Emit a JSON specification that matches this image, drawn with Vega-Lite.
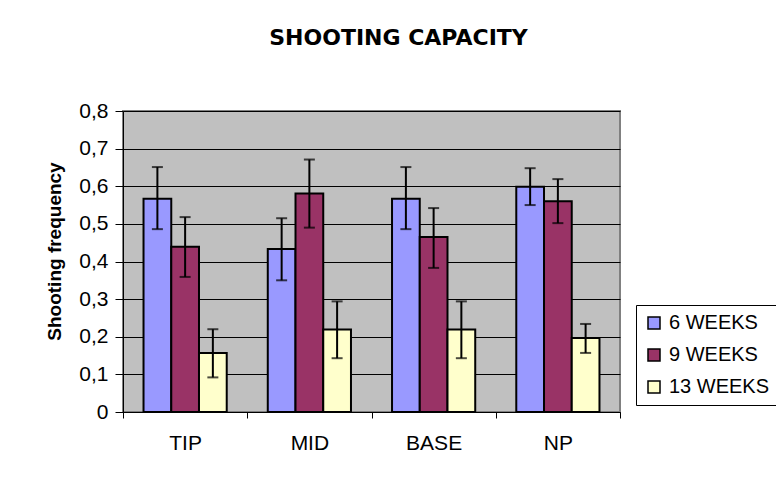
{
  "$schema": "https://vega.github.io/schema/vega-lite/v6.json",
  "width": 497,
  "height": 301,
  "autosize": {"type": "none"},
  "padding": {"left": 123, "top": 111, "right": 156, "bottom": 65},
  "background": "white",
  "title": {
    "text": "SHOOTING CAPACITY",
    "font": "DejaVu Sans",
    "fontSize": 22,
    "fontWeight": "bold",
    "color": "black",
    "anchor": "middle",
    "dx": 27,
    "offset": 50
  },
  "data": {
    "values": [
      {"part": "TIP", "age": "6 WEEKS", "value": 0.567, "lo": 0.486, "hi": 0.651},
      {"part": "TIP", "age": "9 WEEKS", "value": 0.439, "lo": 0.359, "hi": 0.518},
      {"part": "TIP", "age": "13 WEEKS", "value": 0.157, "lo": 0.092, "hi": 0.220},
      {"part": "MID", "age": "6 WEEKS", "value": 0.433, "lo": 0.350, "hi": 0.515},
      {"part": "MID", "age": "9 WEEKS", "value": 0.581, "lo": 0.490, "hi": 0.671},
      {"part": "MID", "age": "13 WEEKS", "value": 0.219, "lo": 0.143, "hi": 0.294},
      {"part": "BASE", "age": "6 WEEKS", "value": 0.567, "lo": 0.486, "hi": 0.651},
      {"part": "BASE", "age": "9 WEEKS", "value": 0.465, "lo": 0.383, "hi": 0.542},
      {"part": "BASE", "age": "13 WEEKS", "value": 0.219, "lo": 0.143, "hi": 0.294},
      {"part": "NP", "age": "6 WEEKS", "value": 0.599, "lo": 0.550, "hi": 0.648},
      {"part": "NP", "age": "9 WEEKS", "value": 0.560, "lo": 0.502, "hi": 0.619},
      {"part": "NP", "age": "13 WEEKS", "value": 0.197, "lo": 0.157, "hi": 0.234}
    ]
  },
  "encoding": {
    "x": {
      "field": "part",
      "type": "nominal",
      "sort": ["TIP", "MID", "BASE", "NP"],
      "scale": {"paddingInner": 0, "paddingOuter": 0},
      "axis": {
        "title": null,
        "labelAngle": 0,
        "tickBand": "extent",
        "domainColor": "black",
        "domainWidth": 1,
        "tickColor": "black",
        "tickSize": 6,
        "labelFont": "Liberation Sans",
        "labelFontSize": 21,
        "labelColor": "black",
        "labelPadding": 14,
        "grid": false
      }
    },
    "xOffset": {
      "field": "age",
      "type": "nominal",
      "sort": ["6 WEEKS", "9 WEEKS", "13 WEEKS"],
      "scale": {"paddingInner": 0, "paddingOuter": 0.74}
    }
  },
  "layer": [
    {
      "mark": {"type": "bar", "stroke": "black", "strokeWidth": 2},
      "encoding": {
        "y": {
          "field": "value",
          "type": "quantitative",
          "title": "Shooting frequency",
          "scale": {"domain": [0, 0.8], "nice": false, "zero": true},
          "axis": {"values": [0, 0.1, 0.2, 0.3, 0.4, 0.5, 0.6, 0.7, 0.8], "tickCount": 12}
        },
        "color": {
          "field": "age",
          "type": "nominal",
          "sort": ["6 WEEKS", "9 WEEKS", "13 WEEKS"],
          "scale": {"domain": ["6 WEEKS", "9 WEEKS", "13 WEEKS"], "range": ["#9999FF", "#993366", "#FFFFCC"]},
          "legend": {
            "orient": "none",
            "legendX": 513,
            "legendY": 194,
            "title": null,
            "strokeColor": "black",
            "fillColor": "white",
            "padding": 8,
            "symbolType": "square",
            "symbolSize": 144,
            "symbolStrokeColor": "black",
            "symbolStrokeWidth": 1.5,
            "symbolOpacity": 1,
            "labelFont": "Liberation Sans",
            "labelFontSize": 20,
            "labelColor": "black",
            "labelOffset": 5,
            "rowPadding": 12
          }
        }
      }
    },
    {
      "mark": {"type": "rule", "color": "black", "strokeWidth": 2},
      "encoding": {
        "y": {"field": "lo", "type": "quantitative", "title": "Shooting frequency"},
        "y2": {"field": "hi"}
      }
    },
    {
      "mark": {"type": "tick", "orient": "horizontal", "color": "black", "thickness": 2, "size": 11},
      "encoding": {
        "y": {"field": "lo", "type": "quantitative", "title": "Shooting frequency"}
      }
    },
    {
      "mark": {"type": "tick", "orient": "horizontal", "color": "black", "thickness": 2, "size": 11},
      "encoding": {
        "y": {"field": "hi", "type": "quantitative", "title": "Shooting frequency"}
      }
    }
  ],
  "config": {
    "view": {"fill": "#C0C0C0", "stroke": "#808080", "strokeWidth": 2},
    "axisY": {
      "tickCount": 12,
      "labelOverlap": false,
      "labelExpr": "replace(format(datum.value, '.1~f'), '.', ',')",
      "grid": true,
      "gridColor": "#000000",
      "gridWidth": 1,
      "domainColor": "black",
      "tickColor": "black",
      "tickSize": 8,
      "labelFont": "Liberation Sans",
      "labelFontSize": 21,
      "labelColor": "black",
      "labelPadding": 7,
      "titleFont": "Liberation Sans",
      "titleFontSize": 19,
      "titleFontWeight": "bold",
      "titleColor": "black",
      "titlePadding": 14,
      "titleY": 140
    }
  }
}
